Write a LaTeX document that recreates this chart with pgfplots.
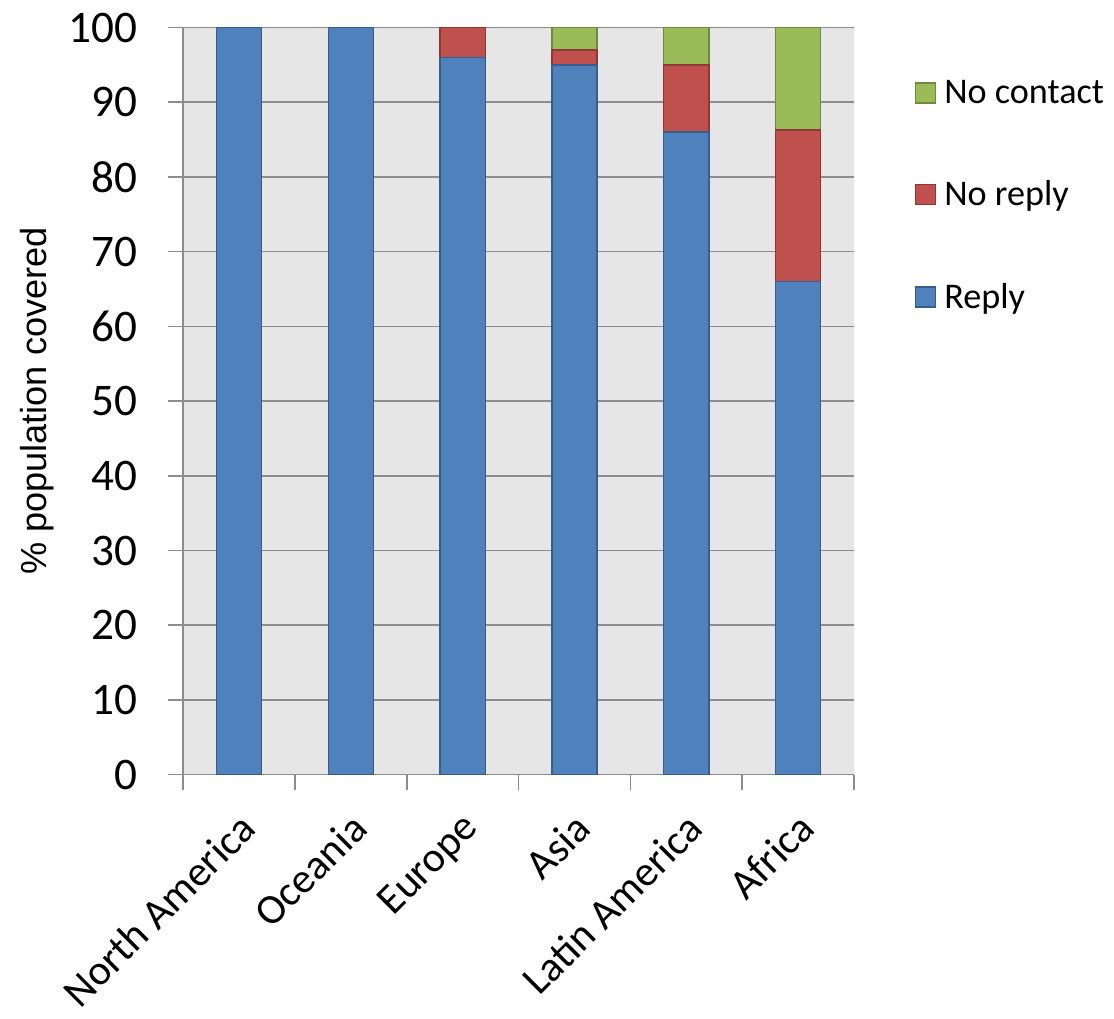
\documentclass[border=0pt]{standalone}
\usepackage{pgfplots}
\pgfplotsset{compat=1.18}
\usepackage{fontspec}
\setmainfont{Carlito}
\newfontfamily\arialfont{Liberation Sans}

\definecolor{replyblue}{HTML}{4F81BD}
\definecolor{replyedge}{HTML}{385D8A}
\definecolor{noreplyred}{HTML}{C0504D}
\definecolor{noreplyedge}{HTML}{8C3836}
\definecolor{nocontactgreen}{HTML}{9BBB59}
\definecolor{nocontactedge}{HTML}{71893F}
\definecolor{plotbg}{HTML}{E6E6E6}
\definecolor{gridgray}{HTML}{8C8C8C}

\begin{document}
\begin{tikzpicture}
\begin{axis}[
    scale only axis,
    width=334pt, height=372pt,
    ybar stacked, bar width=22.5pt,
    xmin=-0.5, xmax=5.5, ymin=0, ymax=100,
    axis background/.style={fill=plotbg},
    axis lines=left,
    axis line style={-, draw=gridgray, line width=0.75pt},
    xtick={-0.5,0.5,1.5,2.5,3.5,4.5,5.5},
    xticklabels={},
    extra x ticks={0,1,2,3,4,5},
    extra x tick labels={North America, Oceania, Europe, Asia, Latin America, Africa},
    extra x tick style={major tick length=0pt, grid=none,
        tick label style={yshift=-13pt, xshift=-1pt, rotate=45, anchor=north east, font=\fontsize{21}{25}\selectfont}},
    ytick={0,10,...,100},
    ymajorgrids,
    grid style={draw=gridgray, line width=0.75pt},
    tick align=outside,
    major tick length=7.5pt,
    tick style={draw=gridgray, line width=0.75pt},
    yticklabel style={font=\fontsize{22.5}{26}\selectfont, xshift=-12pt},
    /pgf/number format/assume math mode=true,
    ylabel={\arialfont\% population covered},
    ylabel style={font=\fontsize{18}{22}\selectfont},
    legend cell align=left,
    reverse legend,
    legend style={at={(1,0.775)}, anchor=west, xshift=27pt, draw=none, fill=none,
        font=\fontsize{18}{22}\selectfont, row sep=33pt},
    legend image code/.code={\draw[#1] (0pt,-5pt) rectangle (10pt,5pt); \path (12pt,0pt);},
]
\addplot[fill=replyblue, draw=replyedge, line width=0.75pt] coordinates {
    (0,100) (1,100) (2,96) (3,95) (4,86) (5,66)
};
\addlegendentry{Reply}
\addplot[fill=noreplyred, draw=noreplyedge, line width=0.75pt] coordinates {
    (0,0) (1,0) (2,4) (3,2) (4,9) (5,20.3)
};
\addlegendentry{No reply}
\addplot[fill=nocontactgreen, draw=nocontactedge, line width=0.75pt] coordinates {
    (0,0) (1,0) (2,0) (3,3) (4,5) (5,13.7)
};
\addlegendentry{No contact}
\end{axis}
\path (current bounding box.west) ++(-7pt,0pt);
\path (current bounding box.north) ++(0pt,3pt);
\end{tikzpicture}
\end{document}
